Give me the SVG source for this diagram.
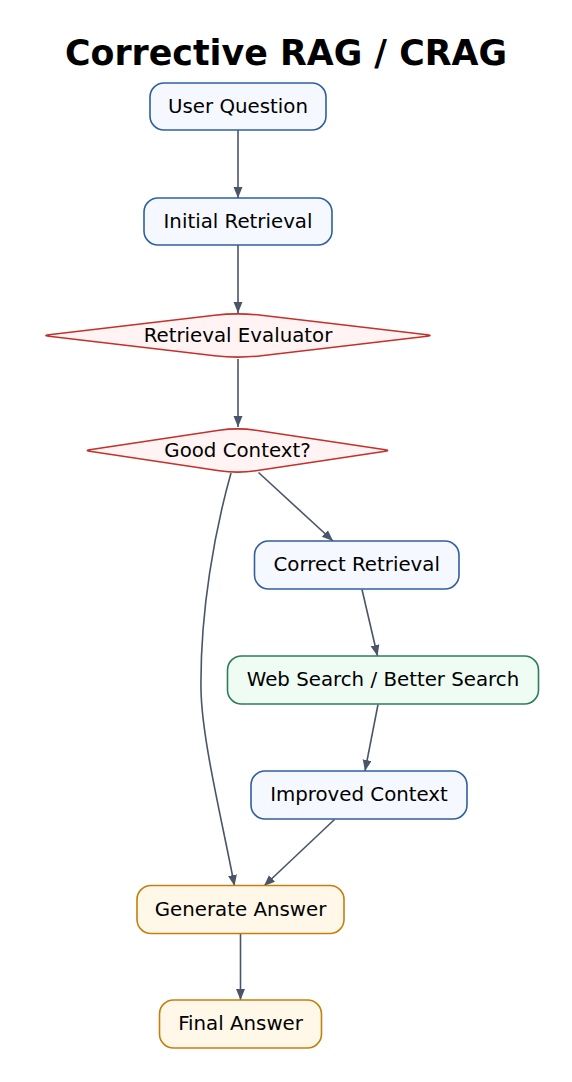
<svg xmlns="http://www.w3.org/2000/svg" width="572" height="1082" viewBox="0 0 572 1082">
<style>
text{font-family:"DejaVu Sans","Liberation Sans",sans-serif;fill:#000}
.t{font-size:19.8px;text-anchor:middle}
.title{font-size:34.8px;font-weight:bold;text-anchor:middle}
.blue{fill:#f5f9ff;stroke:#2f5f9f;stroke-width:1.6}
.red{fill:#fff4f3;stroke:#c4302b;stroke-width:1.6}
.green{fill:#effcf3;stroke:#2e7d5a;stroke-width:1.6}
.orange{fill:#fff8e9;stroke:#c47f0e;stroke-width:1.6}
.e{fill:none;stroke:#4a5568;stroke-width:1.6;marker-end:url(#ah)}
</style>
<defs>
<marker id="ah" markerUnits="userSpaceOnUse" markerWidth="12" markerHeight="10" refX="11" refY="4.5" orient="auto">
<path d="M0,0 L11,4.5 L0,9 Z" fill="#4a5568"/>
</marker>
</defs>
<rect width="572" height="1082" fill="#ffffff"/>
<text class="title" x="286" y="65">Corrective RAG / CRAG</text>
<g id="edges">
<path class="e" d="M238,130 L238,198"/>
<path class="e" d="M238,245 L238,313"/>
<path class="e" d="M238,359 L238,427"/>
<path class="e" d="M258.5,472.5 L333,541"/>
<path class="e" d="M231,473 C215,530 200,610 201,690 C202,740 222,820 234.5,886"/>
<path class="e" d="M362,589.5 L377.5,656"/>
<path class="e" d="M378,704.5 L365,771"/>
<path class="e" d="M334.5,819.5 L264,886"/>
<path class="e" d="M240.5,933.5 L240.5,1000"/>
</g>
<g id="user_question"><rect class="blue" x="150" y="83" width="176" height="47" rx="14"/><text class="t" x="238" y="112.5">User Question</text></g>
<g id="initial_retrieval"><rect class="blue" x="144" y="198" width="188" height="47" rx="14"/><text class="t" x="238" y="227.5">Initial Retrieval</text></g>
<g id="retrieval_evaluator"><path class="red" d="M48.9,334.8 L214.6,315.3 Q238,312.5 261.4,315.3 L427.1,334.8 Q433,335.5 427.1,336.2 L261.4,355.7 Q238,358.5 214.6,355.7 L48.9,336.2 Q43,335.5 48.9,334.8 Z"/><text class="t" x="238" y="341.5">Retrieval Evaluator</text></g>
<g id="good_context"><path class="red" d="M89.6,449.8 L219.2,430.3 Q237.5,427.5 255.8,430.3 L385.4,449.8 Q390,450.5 385.4,451.2 L255.8,470.7 Q237.5,473.5 219.2,470.7 L89.6,451.2 Q85,450.5 89.6,449.8 Z"/><text class="t" x="237.5" y="456.5">Good Context?</text></g>
<g id="correct_retrieval"><rect class="blue" x="254.5" y="541" width="204.5" height="48" rx="14"/><text class="t" x="356.7" y="571">Correct Retrieval</text></g>
<g id="web_search"><rect class="green" x="227.5" y="656" width="311" height="48" rx="14"/><text class="t" x="383" y="686">Web Search / Better Search</text></g>
<g id="improved_context"><rect class="blue" x="251" y="771" width="216" height="48" rx="14"/><text class="t" x="359" y="801">Improved Context</text></g>
<g id="generate_answer"><rect class="orange" x="137" y="885.5" width="207" height="48" rx="14"/><text class="t" x="240.5" y="915.5">Generate Answer</text></g>
<g id="final_answer"><rect class="orange" x="159.5" y="1000" width="162" height="48" rx="14"/><text class="t" x="240.5" y="1030">Final Answer</text></g>
</svg>
